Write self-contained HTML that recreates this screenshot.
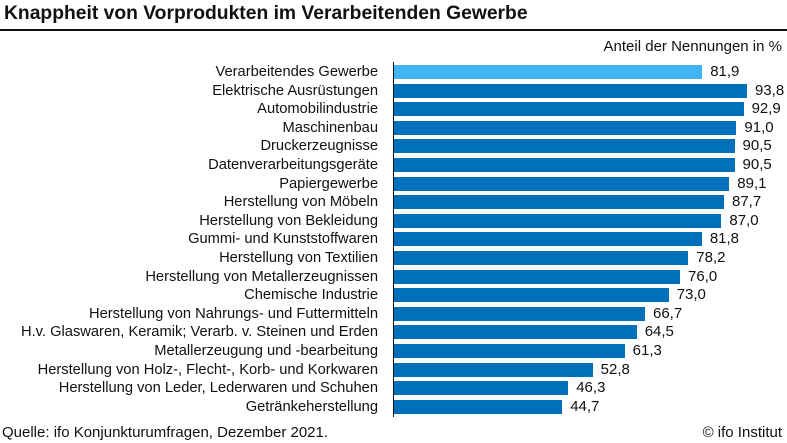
<!DOCTYPE html>
<html><head><meta charset="utf-8"><style>
body{margin:0;width:787px;height:443px;background:#fff;font-family:"Liberation Sans",sans-serif;position:relative;overflow:hidden;color:#111}
.t{position:absolute;left:4px;top:3px;font-size:19.3px;font-weight:bold}
.hr{position:absolute;left:0;top:29px;width:787px;height:2px;background:#111}
.l{position:absolute;right:409px;font-size:14.7px;white-space:nowrap;line-height:18px}
.b{position:absolute;left:394px;height:14px;background:#0070bb}
.v{position:absolute;font-size:15px;line-height:18px}
.ax{position:absolute;left:393px;top:62px;width:1px;height:355px;background:#111}
</style></head><body>
<div class="t">Knappheit von Vorprodukten im Verarbeitenden Gewerbe</div>
<div class="hr"></div>
<div style="position:absolute;right:5px;top:38px;font-size:15px">Anteil der Nennungen in %</div>
<div class="ax"></div>
<div id="c"></div>
<div style="position:absolute;left:2px;top:424px;font-size:15px">Quelle: ifo Konjunkturumfragen, Dezember 2021.</div>
<div style="position:absolute;right:5px;top:424px;font-size:15px">© ifo Institut</div>
<script>
var d=[["Verarbeitendes Gewerbe",81.9],["Elektrische Ausrüstungen",93.8],["Automobilindustrie",92.9],["Maschinenbau",91.0],["Druckerzeugnisse",90.5],["Datenverarbeitungsgeräte",90.5],["Papiergewerbe",89.1],["Herstellung von Möbeln",87.7],["Herstellung von Bekleidung",87.0],["Gummi- und Kunststoffwaren",81.8],["Herstellung von Textilien",78.2],["Herstellung von Metallerzeugnissen",76.0],["Chemische Industrie",73.0],["Herstellung von Nahrungs- und Futtermitteln",66.7],["H.v. Glaswaren, Keramik; Verarb. v. Steinen und Erden",64.5],["Metallerzeugung und -bearbeitung",61.3],["Herstellung von Holz-, Flecht-, Korb- und Korkwaren",52.8],["Herstellung von Leder, Lederwaren und Schuhen",46.3],["Getränkeherstellung",44.7]];
var h="";d.forEach(function(r,i){var y=65+i*18.6,w=r[1]*3.763;
h+='<div class="l" style="top:'+(y-2)+'px">'+r[0]+'</div>';
h+='<div class="b" style="top:'+y+'px;width:'+w+'px;'+(i==0?'background:#41b4f5':'')+'"></div>';
h+='<div class="v" style="top:'+(y-2)+'px;left:'+(394+w+8)+'px">'+r[1].toFixed(1).replace(".",",")+'</div>';});
document.getElementById("c").innerHTML=h;
</script>
</body></html>
